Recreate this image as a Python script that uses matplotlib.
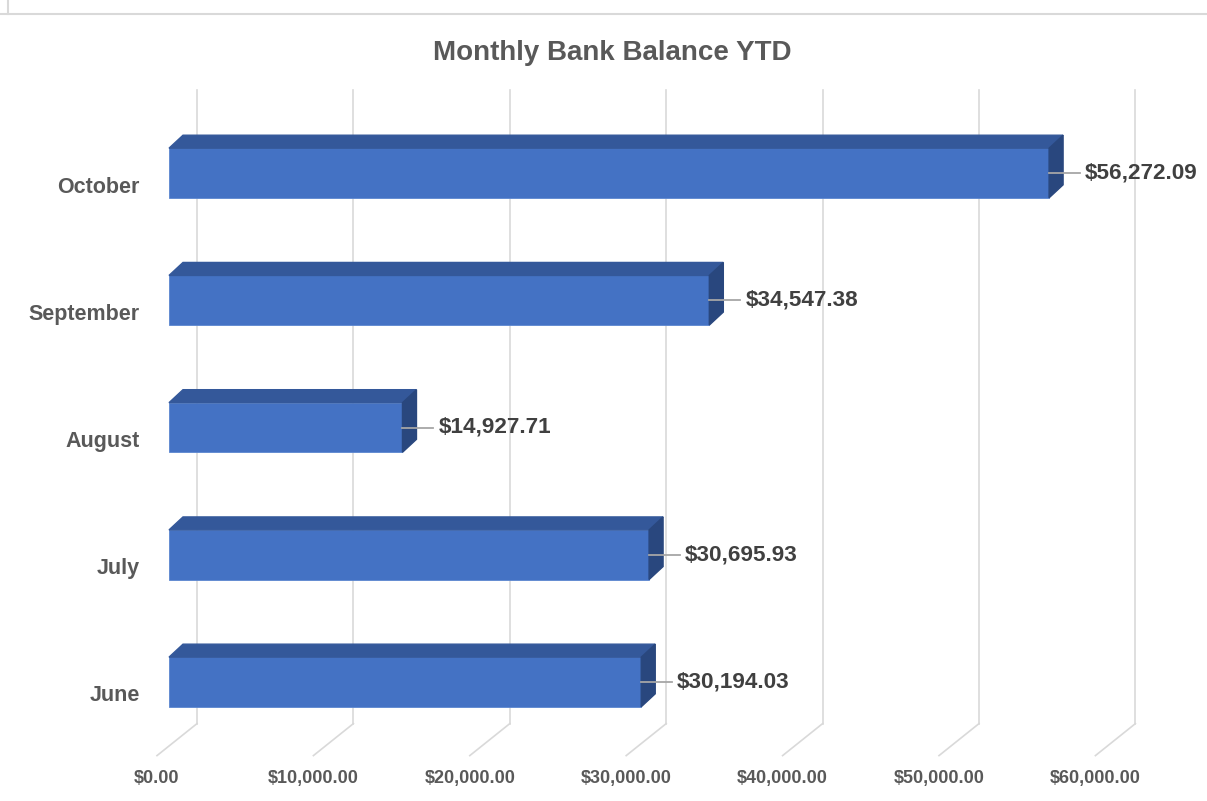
import matplotlib
matplotlib.use('Agg')
import matplotlib.pyplot as plt
from matplotlib.patches import Polygon
from matplotlib.lines import Line2D

plt.rcParams['font.family'] = ['Liberation Sans', 'DejaVu Sans']

# data
months = ['June', 'July', 'August', 'September', 'October']
balances = [30194.03, 30695.93, 14927.71, 34547.38, 56272.09]
ticks = [0, 10000, 20000, 30000, 40000, 50000, 60000]

W, H, DPI = 1207, 801, 100
fig = plt.figure(figsize=(W / DPI, H / DPI), dpi=DPI)

# axes = front plane of the bars (pixel geometry from the reference)
x_max = 62000
px_per_x = 0.01564
left_px, top_px, bot_px = 169, 109.4, 745.6
width_px = x_max * px_per_x
ax = fig.add_axes([left_px / W, 1 - bot_px / H, width_px / W, (bot_px - top_px) / H])
ax.set_xlim(0, x_max)
ax.set_ylim(-0.5, len(months) - 0.5)
ax.axis('off')

# pixel -> data offsets
ux = 1 / px_per_x
uy = (len(months)) / (bot_px - top_px)

def off(px, py):
    return px * ux, py * uy

face = '#4472C4'
top_c = '#34589A'
side_c = '#29477E'
grid_c = '#D9D9D9'
txt_c = '#595959'

# back wall gridlines and floor slants
bx, by = off(28, 22)
fx, fy = off(-12, -10)
y0, y1 = -0.5, len(months) - 0.5
for t in ticks:
    ax.add_line(Line2D([t + bx, t + bx], [y0 + by, y1 + by - off(0, 3)[1]], color=grid_c, lw=1.2, zorder=1, clip_on=False))
    ax.add_line(Line2D([t + bx, t + fx], [y0 + by, y0 + fy], color=grid_c, lw=1.2, zorder=1, clip_on=False))
    lx, ly = off(-12, -33)
    ax.text(t + lx, y0 + ly, f'${t:,.2f}', ha='center', va='center',
            fontsize=13, fontweight='bold', color=txt_c, clip_on=False)

# 3d-ish bars
h = 0.39
dx, dy = off(14, 13)
ys = list(range(len(months)))
ax.barh(ys, balances, height=h, color=face, zorder=3, edgecolor='#5B86D0', linewidth=0.6)
for y, v in zip(ys, balances):
    topv = y + h / 2
    botv = y - h / 2
    ax.add_patch(Polygon([(0, topv), (v, topv), (v + dx, topv + dy), (dx, topv + dy)],
                         closed=True, color=top_c, zorder=3, clip_on=False))
    ax.add_patch(Polygon([(v, botv), (v, topv), (v + dx, topv + dy), (v + dx, botv + dy)],
                         closed=True, color=side_c, zorder=3, clip_on=False))
    # leader line + label
    lx, _ = off(31, 0)
    tx, _ = off(36, 0)
    ax.add_line(Line2D([v, v + lx], [y, y], color='#A6A6A6', lw=1.3, zorder=4, clip_on=False))
    ax.text(v + tx, y, f'${v:,.2f}', ha='left', va='center', fontsize=16.2,
            fontweight='bold', color='#404040', zorder=5, clip_on=False)

# category labels
for y, m in zip(ys, months):
    lx, ly = off(-29, -14)
    ax.text(lx, y + ly, m, ha='right', va='center', fontsize=15.5,
            fontweight='bold', color=txt_c, clip_on=False)

fig.text(612 / W, 1 - 53 / H, 'Monthly Bank Balance YTD', ha='center', va='center',
         fontsize=20, fontweight='bold', color=txt_c)

# thin frame line from the screenshot
fig.add_artist(Line2D([0, 1], [1 - 14 / H, 1 - 14 / H], color='#D9D9D9', lw=1.5))
fig.add_artist(Line2D([8 / W, 8 / W], [1 - 14 / H, 1], color='#D9D9D9', lw=1.5))

fig.savefig('out.png', dpi=DPI)
